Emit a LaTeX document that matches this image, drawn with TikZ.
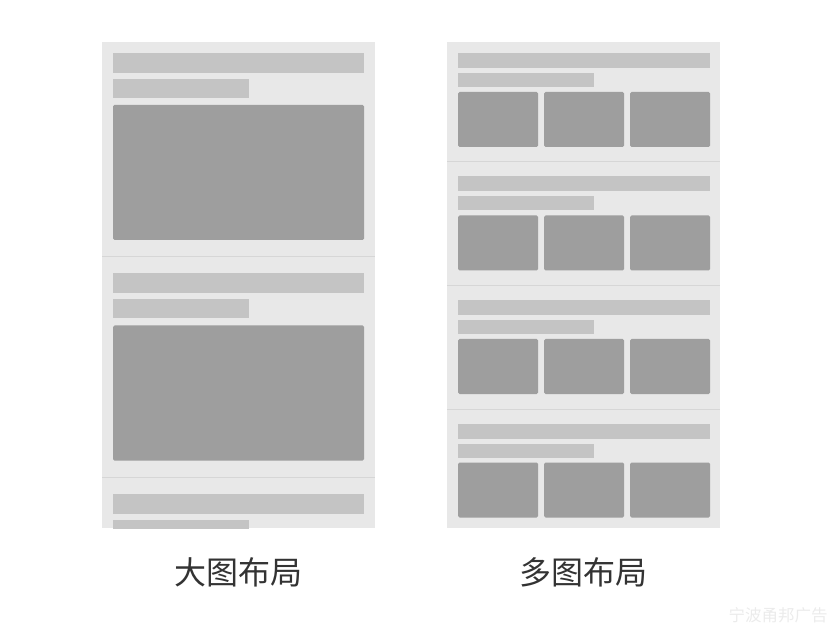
\documentclass[tikz,border=0pt]{standalone}
\usepackage{fontspec}
\newfontfamily\cjk{Noto Sans CJK SC}
\definecolor{panelbg}{HTML}{E8E8E8}
\definecolor{barc}{HTML}{C4C4C4}
\definecolor{imgc}{HTML}{9E9E9E}
\definecolor{divc}{HTML}{D6D6D6}
\definecolor{txtc}{HTML}{333333}
\definecolor{wmc}{HTML}{EBEBEB}
\tikzset{
  panel/.style={fill=panelbg},
  bar/.style={fill=barc},
  img/.style={fill=imgc, rounded corners=1.5pt},
  divider/.style={draw=divc, line width=1pt},
  caption/.style={font=\cjk\fontsize{32}{36}\selectfont, text=txtc, inner sep=0pt},
  watermark/.style={font=\cjk\fontsize{16.5}{19}\selectfont, text=wmc, inner sep=0pt}
}
\begin{document}
\begin{tikzpicture}[x=1pt,y=-1pt]
\useasboundingbox (0,0) rectangle (830,628);
% left panel
\fill[panel] (102,42.5) rectangle (375,528);
\begin{scope}
\clip (102,42.5) rectangle (375,528);
\foreach \i in {0,1,2}{
  \pgfmathsetmacro\off{220.5*\i}
  \fill[bar] (113,53+\off) rectangle (364,73+\off);
  \fill[bar] (113,79+\off) rectangle (249,98+\off);
  \fill[img] (113,105+\off) rectangle (364,240+\off);
}
\foreach \i in {0,1}{
  \pgfmathsetmacro\off{220.5*\i}
  \draw[divider] (102,257+\off) -- (375,257+\off);
}
\end{scope}
% right panel
\fill[panel] (447,42.5) rectangle (720,528);
\foreach \i in {0,1,2,3}{
  \pgfmathsetmacro\off{123.5*\i}
  \fill[bar] (458,53+\off) rectangle (710,68+\off);
  \fill[bar] (458,73+\off) rectangle (594,87+\off);
  \fill[img] (458,92+\off) rectangle (538,147+\off);
  \fill[img] (544,92+\off) rectangle (624,147+\off);
  \fill[img] (630,92+\off) rectangle (710,147+\off);
}
\foreach \i in {0,1,2}{
  \pgfmathsetmacro\off{123.5*\i}
  \draw[divider] (447,162+\off) -- (720,162+\off);
}
% captions
\node[caption] (capL) at (238.5,572) {大图布局};
\node[caption] (capR) at (583.5,572) {多图布局};
\node[watermark] (wm) at (778,615) {宁波甬邦广告};
\end{tikzpicture}
\end{document}
